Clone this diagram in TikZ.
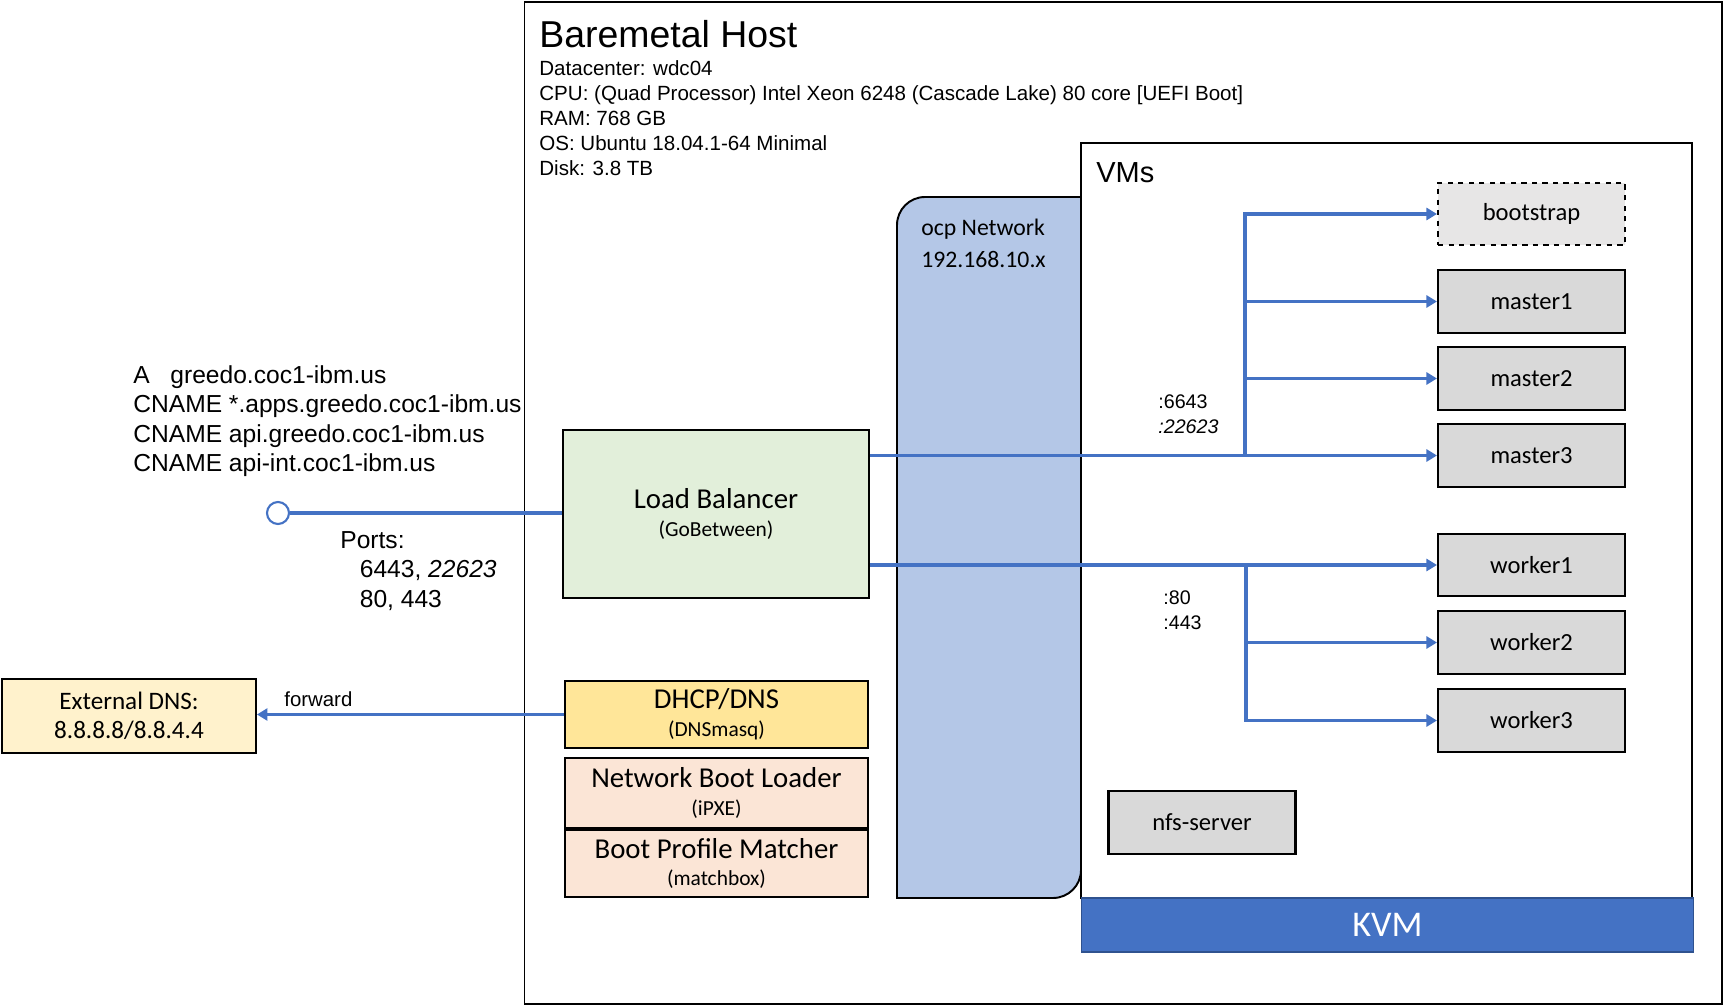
\documentclass[tikz,border=0pt]{standalone}
\usepackage{fontspec}
\setmainfont{Liberation Sans}
\newfontfamily\calibri{Carlito}
\usepackage{tikz}
\usetikzlibrary{positioning}
\usetikzlibrary{arrows.meta}
\definecolor{linkblue}{HTML}{4472C4}
\definecolor{kvmdark}{HTML}{2F528F}
\definecolor{ocpblue}{HTML}{B4C7E7}
\definecolor{lbgreen}{HTML}{E2EFDA}
\definecolor{dhcpyellow}{HTML}{FFE699}
\definecolor{bootpeach}{HTML}{FBE5D6}
\definecolor{dnscream}{HTML}{FFF2CC}
\definecolor{vmgray}{HTML}{D9D9D9}
\definecolor{bsgray}{HTML}{E7E6E6}
\newcommand{\subline}[1]{{\fontsize{12.2}{14}\selectfont #1}}
\tikzstyle{vmbox}=[rectangle,draw=black,line width=1.2pt,fill=vmgray,minimum width=37.4mm,minimum height=12.5mm,inner sep=0pt,font=\calibri\fontsize{14}{16}\selectfont]
\tikzstyle{svcbox}=[rectangle,draw=black,line width=1.1pt,minimum width=60.6mm,inner sep=0pt,align=center,font=\calibri\fontsize{16.4}{15.8}\selectfont]
\tikzstyle{container}=[rectangle,draw=black,inner sep=0pt]
\tikzstyle{link}=[draw=linkblue,line width=1.8pt]
\tikzstyle{arrowlink}=[link,-{Triangle[length=2.1mm,width=2.4mm]}]
\tikzstyle{info}=[inner sep=0pt,anchor=north west,align=left]

\begin{document}
\begin{tikzpicture}[x=0.02cm,y=-0.02cm]
    \useasboundingbox (0,0) rectangle (1724,1006);
    % The host and its title
    \node[container,line width=0.9pt,minimum width=239.5mm,minimum height=200.4mm] (host) at (1123.25,503) {};
    \node[anchor=base west,inner sep=0pt,font=\fontsize{21.3}{24}\selectfont] (hosttitle) at (539,48) {Baremetal Host};
    \node[info,font=\fontsize{11.7}{14.2}\selectfont] (hostinfo) at (539,60) {Datacenter: wdc04\\CPU: (Quad Processor) Intel Xeon 6248 (Cascade Lake) 80 core [UEFI Boot]\\RAM: 768 GB\\OS: Ubuntu 18.04.1-64 Minimal\\Disk: 3.8 TB};

    % ocp network, rounded on two corners
    \draw[fill=ocpblue,line width=1.1pt] (1081,197) -- (925,197) arc[start angle=90,end angle=180,radius=5.6mm] -- (897,898) -- (1053,898) arc[start angle=270,end angle=360,radius=5.6mm] -- cycle;
    \node[info,font=\calibri\fontsize{13.5}{18.2}\selectfont] (ocptext) at (921,219) {ocp Network\\192.168.10.x};

    % VMs and KVM
    \node[container,line width=1.1pt,fill=white,minimum width=122.2mm,minimum height=151mm] (vms) at (1386.5,520.5) {};
    \node[anchor=west,inner sep=0pt,font=\fontsize{16.5}{19}\selectfont] (vmslabel) at (1096,173) {VMs};
    \node[rectangle,fill=linkblue,draw=kvmdark,line width=0.6pt,minimum width=122.6mm,minimum height=10.8mm,inner sep=0pt,text=white,font=\calibri\fontsize{20.6}{24}\selectfont] (kvm) at (1387.5,925) {KVM};

    \node[vmbox,fill=bsgray,dashed] (bs) at (1531.5,214) {bootstrap};
    \foreach \y/\name/\label in {301.5/m1/master1, 378.5/m2/master2, 455.5/m3/master3, 565/w1/worker1, 642.5/w2/worker2, 720.5/w3/worker3}
        \node[vmbox] (\name) at (1531.5,\y) {\label};
    \node[vmbox] (nfs) at (1202,822.5) {nfs-server};

    % services on the host
    \node[svcbox,fill=lbgreen,minimum width=61.2mm,minimum height=33.6mm] (lb) at (716,514) {Load Balancer\\\subline{(GoBetween)}};
    \node[svcbox,fill=dhcpyellow,minimum height=13.4mm] (dhcp) at (716.5,714.5) {DHCP/DNS\\\subline{(DNSmasq)}};
    \node[svcbox,fill=bootpeach,minimum height=14mm] (ipxe) at (716.5,793) {Network Boot Loader\\\subline{(iPXE)}};
    \node[svcbox,fill=bootpeach,minimum height=13.4mm] (matchbox) at (716.5,863.5) {Boot Profile Matcher\\\subline{(matchbox)}};

    % outside the host
    \node[svcbox,fill=dnscream,minimum width=50.8mm,minimum height=14.8mm,font=\calibri\fontsize{14.3}{16.6}\selectfont] (extdns) at (129,716) {External DNS:\\8.8.8.8/8.8.4.4};
    \node[circle,draw=linkblue,line width=1.2pt,fill=white,minimum size=4.4mm,inner sep=0pt] (entry) at (278,513) {};
    \node[info,font=\fontsize{14}{16.8}\selectfont] (records) at (133,365) {A\hspace{0.84em}greedo.coc1-ibm.us\\CNAME *.apps.greedo.coc1-ibm.us\\CNAME api.greedo.coc1-ibm.us\\CNAME api-int.coc1-ibm.us};
    \node[info,font=\fontsize{14}{16.9}\selectfont] (ports) at (340,531) {Ports:\\\hspace*{3.9mm}6443, \textit{22623}\\\hspace*{3.9mm}80, 443};

    % connectors
    \draw[link] (entry.east) -- (entry.east -| lb.west);
    \draw[arrowlink] (dhcp.west) -- node[pos=0.8,above,font=\fontsize{11.6}{13}\selectfont] {forward} (dhcp.west -| extdns.east);

    \draw[arrowlink] (lb.east |- m3.west) -- (m3.west);
    \coordinate (mj) at (1245,455.5);
    \foreach \name in {bs,m1,m2}
        \draw[arrowlink] (mj) |- (\name.west);
    \node[info,font=\fontsize{11.2}{14.2}\selectfont] (mports) at (1158,394) {:6643\\\textit{:22623}};

    \draw[arrowlink] (lb.east |- w1.west) -- (w1.west);
    \coordinate (wj) at (1246,565);
    \foreach \name in {w2,w3}
        \draw[arrowlink] (wj) |- (\name.west);
    \node[info,font=\fontsize{11.2}{14.2}\selectfont] (wports) at (1163,590) {:80\\:443};
\end{tikzpicture}
\end{document}
